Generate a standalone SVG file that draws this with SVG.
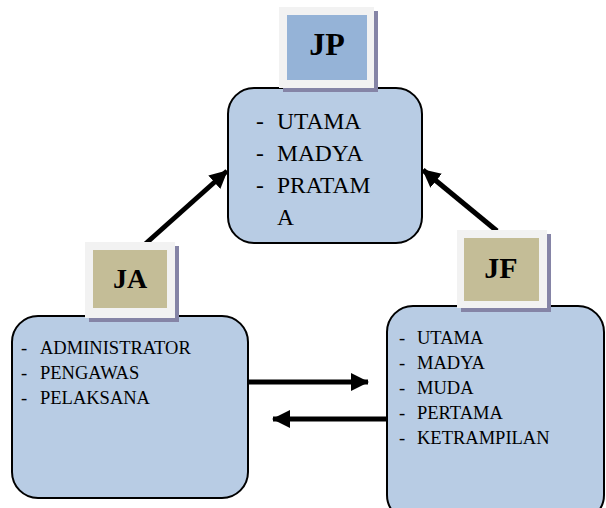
<svg xmlns="http://www.w3.org/2000/svg" width="606" height="508" viewBox="0 0 606 508">
<defs>
<marker id="ah" markerUnits="userSpaceOnUse" markerWidth="20" markerHeight="20" refX="17" refY="9" orient="auto">
<path d="M0,0 L18,9 L0,18 Z" fill="#000"/>
</marker>
<style>
.box{fill:#b8cce4;stroke:#000;stroke-width:2}
.frame{fill:#f2f2f2}
.shadow{fill:#8584a6}
.tan{fill:#c4bd97}
.blue{fill:#95b3d7}
.lbl{font-family:"Liberation Serif","Times New Roman",serif;font-weight:bold;text-anchor:middle;fill:#000}
.t20{font-family:"Liberation Serif","Times New Roman",serif;font-size:23.5px;fill:#000}
.t16{font-family:"Liberation Serif","Times New Roman",serif;font-size:18.5px;fill:#000}
.con{stroke:#000;stroke-width:5;fill:none;marker-end:url(#ah)}
</style>
</defs>
<rect width="606" height="508" fill="#fff"/>
<g id="connectors">
<line class="con" x1="143" y1="246" x2="227" y2="171"/>
<line class="con" x1="497" y1="231" x2="423" y2="170"/>
<line class="con" x1="248" y1="382" x2="368" y2="382"/>
<line class="con" x1="387" y1="419" x2="273" y2="419"/>
</g>
<g id="JP">
<rect class="box" x="228" y="88" width="194" height="155" rx="26"/>
<text class="t20" x="256" y="129">-</text><text class="t20" x="277" y="129">UTAMA</text>
<text class="t20" x="256" y="161">-</text><text class="t20" x="277" y="161">MADYA</text>
<text class="t20" x="256" y="193">-</text><text class="t20" x="277" y="193">PRATAM</text>
<text class="t20" x="277" y="225">A</text>
<rect class="shadow" x="283" y="11" width="95" height="81"/>
<rect class="frame" x="279" y="7" width="95" height="81"/>
<rect class="blue" x="287" y="15" width="80" height="65"/>
<text class="lbl" x="327" y="55" font-size="32">JP</text>
</g>
<g id="JA">
<rect class="box" x="12" y="316" width="236" height="182" rx="26"/>
<text class="t16" x="21" y="354">-</text><text class="t16" x="40" y="354">ADMINISTRATOR</text>
<text class="t16" x="21" y="379">-</text><text class="t16" x="40" y="379">PENGAWAS</text>
<text class="t16" x="21" y="404">-</text><text class="t16" x="40" y="404">PELAKSANA</text>
<rect class="shadow" x="89" y="246" width="90" height="76"/>
<rect class="frame" x="85" y="242" width="90" height="76"/>
<rect class="tan" x="93" y="250" width="74" height="58"/>
<text class="lbl" x="130" y="288" font-size="28">JA</text>
</g>
<g id="JF">
<rect class="box" x="387" y="306" width="217" height="215" rx="26"/>
<text class="t16" x="399" y="344">-</text><text class="t16" x="417" y="344">UTAMA</text>
<text class="t16" x="399" y="369">-</text><text class="t16" x="417" y="369">MADYA</text>
<text class="t16" x="399" y="394">-</text><text class="t16" x="417" y="394">MUDA</text>
<text class="t16" x="399" y="419">-</text><text class="t16" x="417" y="419">PERTAMA</text>
<text class="t16" x="399" y="444">-</text><text class="t16" x="417" y="444">KETRAMPILAN</text>
<rect class="shadow" x="461" y="234" width="90" height="78"/>
<rect class="frame" x="457" y="230" width="90" height="78"/>
<rect class="tan" x="464" y="238" width="75" height="63"/>
<text class="lbl" x="501" y="278" font-size="30">JF</text>
</g>
</svg>
